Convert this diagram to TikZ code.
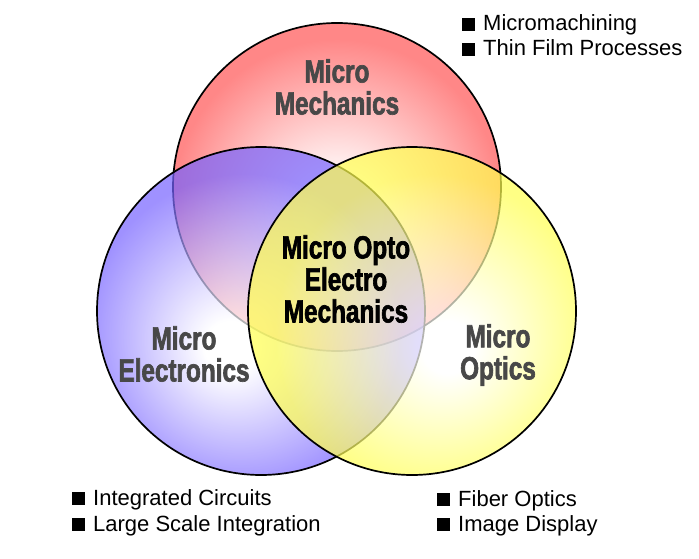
\documentclass[tikz,border=0pt]{standalone}
\usepackage{fontspec}
\setmainfont{Liberation Sans}
\newfontfamily\headfont[FakeStretch=0.76,FakeBold=2]{Liberation Sans}
\usepackage{tikz}
\usepackage{xcolor}
\definecolor{mechred}{RGB}{255,135,135}
\definecolor{elecblue}{RGB}{118,98,255}
\definecolor{optyellow}{RGB}{255,255,80}
\definecolor{labelgrey}{RGB}{72,72,72}

\pgfdeclareradialshading{mechshade}{\pgfpoint{0bp}{-5bp}}{color(0bp)=(white); color(5bp)=(white); color(25bp)=(mechred); color(50bp)=(mechred)}
\pgfdeclareradialshading{elecshade}{\pgfpoint{-5bp}{-6bp}}{color(0bp)=(white); color(4bp)=(white); color(24bp)=(elecblue); color(50bp)=(elecblue)}
\pgfdeclareradialshading{optshade}{\pgfpoint{6bp}{-6bp}}{color(0bp)=(white); color(4bp)=(white); color(24bp)=(optyellow); color(50bp)=(optyellow)}

\newcommand{\sqbullet}{\rule{13pt}{13pt}\hspace{8pt}}

\begin{document}
\begin{tikzpicture}[x=1pt,y=-1pt,
  venn/.style={circle,draw,line width=1.7pt,minimum size=328pt,inner sep=0pt,shade},
  field/.style={font=\headfont\bfseries\fontsize{32}{32}\selectfont,align=center,text=labelgrey},
  item/.style={font=\fontsize{22}{26}\selectfont,anchor=base west,inner sep=0pt}]
\useasboundingbox (0,0) rectangle (699,559);
\node[venn,shading=mechshade] (mech) at (337,187) {};
\node[venn,shading=elecshade,fill opacity=0.7] (elec) at (261,311) {};
\node[venn,shading=optshade,fill opacity=0.7] (opt) at (412,311) {};
\node[field] (mechtxt) at (337,87) {Micro\\Mechanics};
\node[field] (electxt) at (184,354) {Micro\\Electronics};
\node[field] (opttxt) at (498,355) {Micro\\Optics};
\node[field,text=black] (moem) at (346,279) {Micro Opto\\Electro\\Mechanics};
\node[item] (mm1) at (462,31) {\sqbullet Micromachining};
\node[item] (mm2) at (462,56) {\sqbullet Thin Film Processes};
\node[item] (el1) at (72,505) {\sqbullet Integrated Circuits};
\node[item] (el2) at (72,531) {\sqbullet Large Scale Integration};
\node[item] (op1) at (437,506) {\sqbullet Fiber Optics};
\node[item] (op2) at (437,531) {\sqbullet Image Display};
\end{tikzpicture}
\end{document}
